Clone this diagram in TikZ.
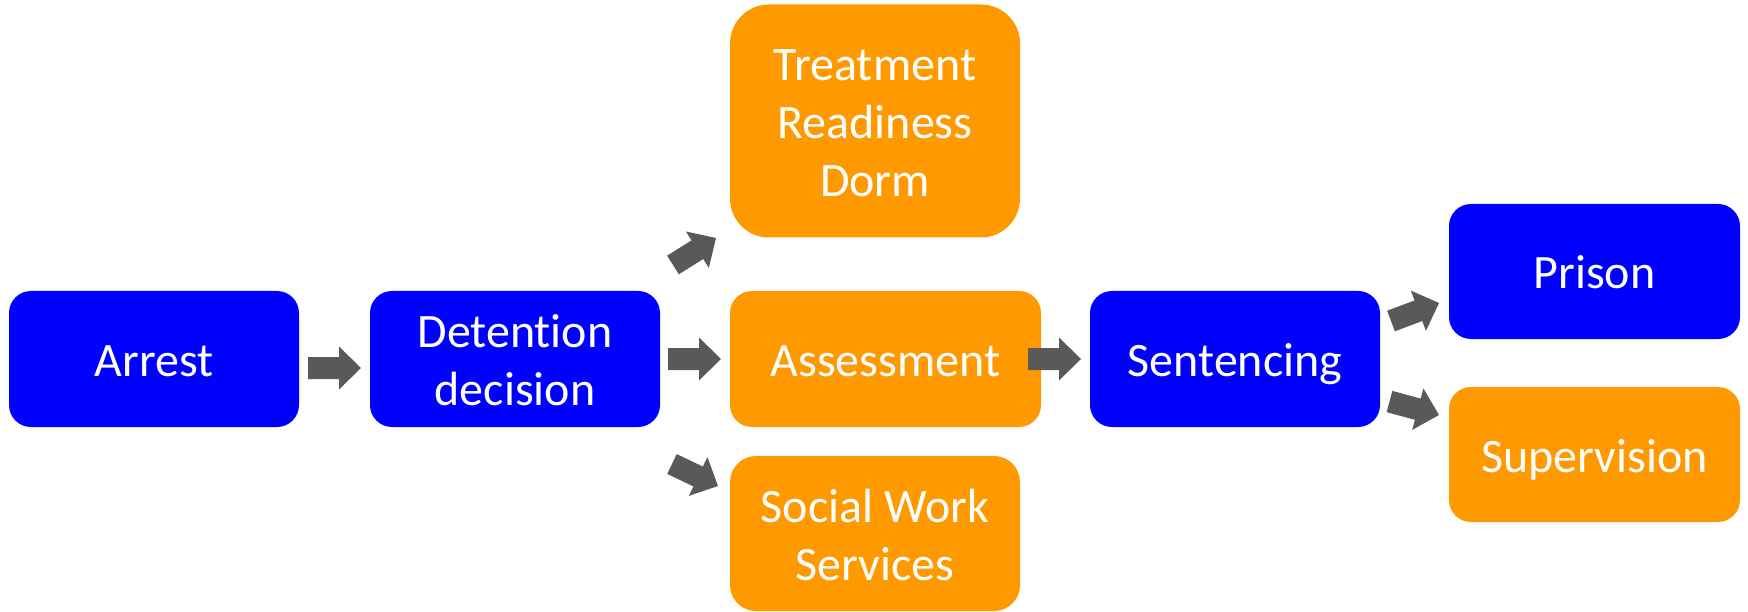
\documentclass[tikz,border=0pt]{standalone}
\usepackage{fontspec}
\setmainfont{Carlito}[Ligatures=CommonOff]
\usetikzlibrary{calc}
\definecolor{boxblue}{HTML}{0000FF}
\definecolor{boxorange}{HTML}{FF9900}
\definecolor{arrowgray}{HTML}{595959}
\begin{document}
\begin{tikzpicture}[x=1pt,y=-1pt,
  stage/.style={rectangle, inner sep=0pt, text=white, align=center,
    font=\fontsize{48}{58}\selectfont, text height=35pt, text depth=0pt},
  bluebox/.style={stage, fill=boxblue},
  orangebox/.style={stage, fill=boxorange},
  blockarrow/.style={fill=arrowgray, to path={
    let \p1=($(\tikztotarget)-(\tikztostart)$),
        \n1={atan2(\y1,\x1)}, \n2={veclen(\x1,\y1)} in
    ([shift={(\n1+90:11pt)}]\tikztostart)
    -- ([shift={(\n1:\n2-22pt)},shift={(\n1+90:11pt)}]\tikztostart)
    -- ([shift={(\n1:\n2-22pt)},shift={(\n1+90:21.5pt)}]\tikztostart)
    -- (\tikztotarget)
    -- ([shift={(\n1:\n2-22pt)},shift={(\n1-90:21.5pt)}]\tikztostart)
    -- ([shift={(\n1:\n2-22pt)},shift={(\n1-90:11pt)}]\tikztostart)
    -- ([shift={(\n1-90:11pt)}]\tikztostart)
    -- cycle}}
]
\useasboundingbox (0,0) rectangle (1748,612);

\node[bluebox, minimum width=290pt, minimum height=136pt, rounded corners=22pt]
  (arrest) at (154,359) {Arrest};
\node[bluebox, minimum width=290pt, minimum height=136pt, rounded corners=22pt, text height=93pt]
  (detention) at (515,359) {Detent\kern0pt ion\\decision};
\node[orangebox, minimum width=290pt, minimum height=233pt, rounded corners=39pt, text height=151pt]
  (dorm) at (875,121) {Treatment\\Readiness\\Dorm};
\node[orangebox, minimum width=311pt, minimum height=136pt, rounded corners=22pt]
  (assessment) at (885.5,359) {Assessment};
\node[orangebox, minimum width=290pt, minimum height=155pt, rounded corners=26pt, text height=93pt]
  (social) at (875,533.5) {Social Work\\Services};
\node[bluebox, minimum width=290pt, minimum height=136pt, rounded corners=22pt]
  (sentencing) at (1235,359) {Sentencing};
\node[bluebox, minimum width=291pt, minimum height=135pt, rounded corners=22pt]
  (prison) at (1594.5,271.5) {Prison};
\node[orangebox, minimum width=291pt, minimum height=135pt, rounded corners=22pt]
  (supervision) at (1594.5,454.5) {Supervision};

\coordinate (a1s) at (308,368);    \coordinate (a1e) at (361,368);
\coordinate (a2s) at (668,359);    \coordinate (a2e) at (721,359);
\coordinate (a3s) at (1028,359);   \coordinate (a3e) at (1081,359);
\coordinate (a4s) at (673,265);    \coordinate (a4e) at (716,238);
\coordinate (a5s) at (672,464);    \coordinate (a5e) at (718,486);
\coordinate (a6s) at (1391,321);   \coordinate (a6e) at (1439,303);
\coordinate (a7s) at (1389.5,401.5); \coordinate (a7e) at (1439,415);

\path[blockarrow] (a1s) to (a1e);
\path[blockarrow] (a2s) to (a2e);
\path[blockarrow] (a3s) to (a3e);
\path[blockarrow] (a4s) to (a4e);
\path[blockarrow] (a5s) to (a5e);
\path[blockarrow] (a6s) to (a6e);
\path[blockarrow] (a7s) to (a7e);
\end{tikzpicture}
\end{document}
